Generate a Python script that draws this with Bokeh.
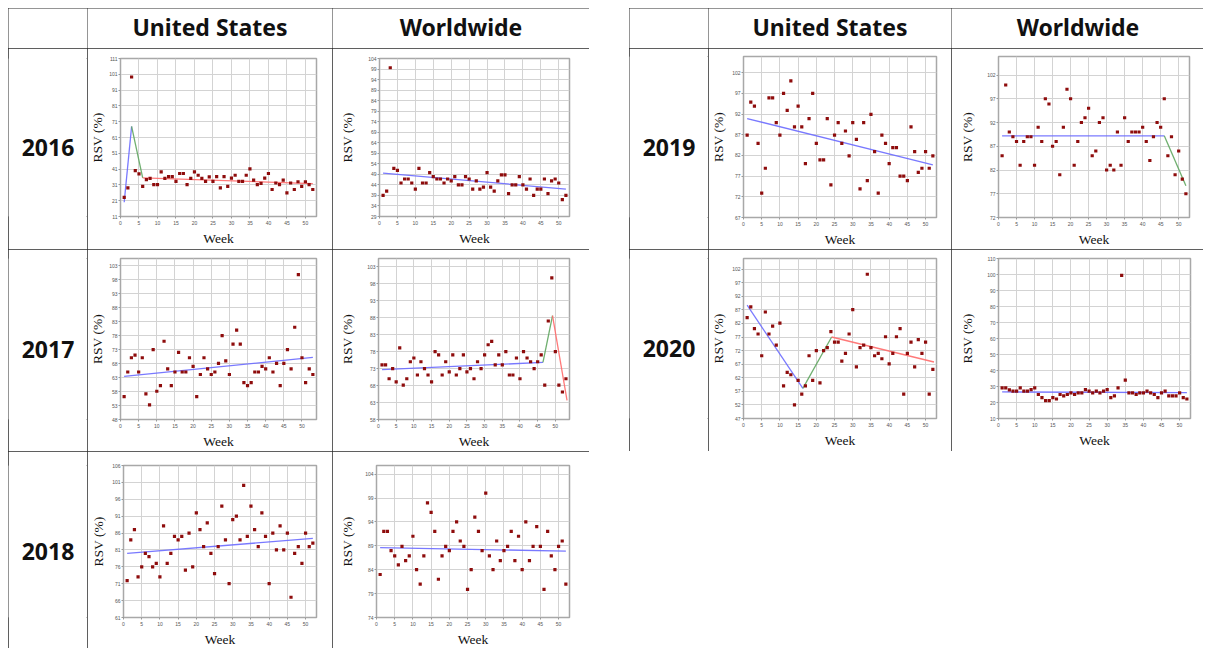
from bokeh.plotting import figure
from bokeh.layouts import row, column
from bokeh.models import Range1d, FixedTicker, Spacer
from bokeh.core.properties import value
from bokeh.embed import file_html
from bokeh.resources import INLINE

# ---------------- data ----------------
col_titles = ["United States", "Worldwide"]
years_left = ["2016", "2017", "2018"]
years_right = ["2019", "2020"]
x_label = "Week"
y_label = "RSV (%)"
x_ticks = [0, 5, 10, 15, 20, 25, 30, 35, 40, 45, 50]

us2016 = [23.1, 29.1, 99.3, 40, 38, 30.1, 34.3, 35.1, 31.2, 31.2,
          39.2, 35.1, 36.3, 36.3, 33.2, 38.2, 38.2, 31.2, 35.1, 39.2,
          37.1, 35.1, 33.2, 36.1, 33.2, 36.3, 29.1, 36.3, 30.1, 35.3,
          37.1, 33.2, 33.2, 37.1, 41.2, 34.0, 31.2, 32.0, 35.3, 38.2,
          28.1, 32.2, 31.2, 34.0, 26.0, 32.2, 28.1, 33.0, 30.1, 33.0,
          31.2, 28.1]
us2016_trend_x = [1, 3, 6, 52]
us2016_trend_y = [20, 68, 35.5, 31.8]
us2016_yticks = [11, 21, 31, 41, 51, 61, 71, 81, 91, 101, 111]

ww2016 = [39, 41, 99.6, 51.8, 50.9, 44.9, 46.8, 46.8, 44.9, 42,
          51.8, 44.9, 44.9, 49.8, 47.9, 46.8, 46.8, 44.9, 46.8, 45.9,
          47.9, 44, 44, 47.9, 46.8, 42, 45.9, 42, 42.9, 49.8,
          42.9, 41, 45.9, 48.8, 48.8, 39.9, 44, 44, 47.9, 44,
          42, 46.8, 39, 42, 42, 46.8, 39.9, 45.9, 46.8, 44.9,
          37, 39]
ww2016_trend_x = [1, 52]
ww2016_trend_y = [49.6, 42]
ww2016_yticks = [29, 34, 39, 44, 49, 54, 59, 64, 69, 74, 79, 84, 89, 94, 99, 104]

us2017 = [56.2, 65, 70.1, 71, 65, 70.1, 57.2, 53.2, 73, 58.1,
          60.1, 76, 66.1, 60.1, 65, 72, 65, 65, 70.1, 67,
          56.2, 64.1, 70.1, 66.1, 64.1, 65, 68.1, 78, 69, 64.1,
          75, 80, 75, 61.2, 60.1, 61.2, 65, 65, 67, 66.1,
          70.1, 65, 68.1, 60.1, 68.1, 73, 66.1, 81, 99.8, 70.1,
          61.2, 66.1, 64.1]
us2017_trend_x = [1, 53]
us2017_trend_y = [63.4, 70.2]
us2017_yticks = [48, 53, 58, 63, 68, 73, 78, 83, 88, 93, 98, 103]

ww2017 = [74.1, 74.1, 70, 73, 69.1, 79.1, 68.1, 70, 75, 76.1,
          71.1, 75, 73, 71.1, 69.1, 78, 77, 71.1, 75, 72,
          77, 71.1, 73, 77, 72, 73, 70, 75, 73, 77,
          80, 81, 74.1, 77, 74.1, 78, 71.1, 71.1, 76.1, 70,
          78, 76.1, 75, 73, 75, 77, 68.1, 87, 99.7, 78,
          68.1, 66.1, 70]
ww2017_trend_x = [1, 46.5, 49.2, 53.3]
ww2017_trend_y = [72.7, 74.8, 88.6, 63.6]
ww2017_yticks = [58, 63, 68, 73, 78, 83, 88, 93, 98, 103]

us2018 = [71.9, 84, 87, 73, 76, 80, 79, 76, 77, 73,
          88.1, 77, 80, 85, 84, 85, 75, 86, 76, 92,
          87, 82, 89, 80, 74, 82, 94, 84, 71, 90,
          91, 84, 100.1, 85, 94, 87, 82, 92, 85, 71,
          86, 81, 88.1, 81, 86, 67, 80, 82, 77, 86,
          82, 83]
us2018_trend_x = [1, 52]
us2018_trend_y = [80, 84.4]
us2018_yticks = [61, 66, 71, 76, 81, 86, 91, 96, 101, 106]

ww2018 = [83, 92, 92, 88, 86.9, 85, 88.9, 85.9, 86.9, 91,
          84, 81, 86.9, 98, 96, 92, 82, 86.9, 88.9, 88,
          92, 94, 90, 88.9, 79.9, 84, 95, 92, 88, 100,
          86.9, 84, 90, 85.9, 88, 88.9, 92, 85.9, 91, 84,
          94, 85.9, 88.9, 93, 88.9, 79.9, 92, 86.9, 84, 88.9,
          90, 81]
ww2018_trend_x = [1, 52]
ww2018_trend_y = [88.6, 87.9]
ww2018_yticks = [74, 79, 84, 89, 94, 99, 104]

us2019 = [86.9, 94.9, 93.9, 84.9, 72.9, 78.9, 95.9, 95.9, 89.9, 86.9,
          97, 92.9, 100, 88.9, 93.9, 88.9, 80, 90.9, 97, 84.9,
          80.9, 80.9, 90.9, 74.9, 86.9, 89.9, 84.9, 87.9, 81.9, 89.9,
          85.9, 73.9, 89.9, 75.9, 91.9, 82.9, 72.9, 86.9, 84.9, 80,
          83.9, 83.9, 77, 77, 75.9, 88.9, 82.9, 77.9, 78.9, 82.9,
          78.9, 81.9]
us2019_trend_x = [1, 52]
us2019_trend_y = [90.9, 79.7]
us2019_yticks = [67, 72, 77, 82, 87, 92, 97, 102]

ww2019 = [85, 99.9, 90, 89, 88, 83, 88, 89, 89, 83,
          91, 88, 97, 95.9, 87, 88, 81, 91, 99, 97,
          83, 88, 92, 93, 95, 85, 86, 92, 93, 82,
          83, 82, 90, 83, 93, 88, 90, 90, 90, 91,
          88, 84, 89, 92, 91, 97, 85, 89, 81, 86,
          80.1, 77]
ww2019_trend_x = [1, 46, 52]
ww2019_trend_y = [89.2, 89.2, 78.7]
ww2019_yticks = [72, 77, 82, 87, 92, 97, 102]

us2020 = [84.1, 88.1, 80.1, 78.1, 70.1, 86.2, 78.1, 81, 74, 82.1,
          59, 64, 63.1, 52, 61, 56, 59, 70.1, 61, 72,
          60.1, 72, 73.1, 79, 75.1, 75.1, 68.1, 71, 78.1, 87.1,
          66, 73.1, 74, 100.1, 73.1, 70.1, 71, 69, 77.1, 67.1,
          71, 77.1, 80.1, 56, 71, 75.1, 66, 76, 71, 75.1,
          56, 65.1]
us2020_trend_x = [1, 16.3, 24.2, 52.3]
us2020_trend_y = [88.7, 58.1, 77, 67.8]
us2020_yticks = [47, 52, 57, 62, 67, 72, 77, 82, 87, 92, 97, 102]

ww2020 = [29.2, 29.2, 27.9, 27.1, 27.1, 29.2, 27.1, 27.1, 28.1, 29.2,
          25, 23, 21.2, 21.2, 23, 22.2, 25, 24.1, 25, 26,
          25, 26, 26, 28.1, 27.1, 26, 27.1, 26, 27.1, 28.1,
          23, 24.1, 29.2, 99.5, 34, 26, 26, 25, 26, 26,
          27.1, 26, 25, 23, 26, 27.1, 24.1, 24.1, 24.1, 26,
          23, 22.2]
ww2020_trend_x = [1, 52]
ww2020_trend_y = [26.6, 26.2]
ww2020_yticks = [10, 20, 30, 40, 50, 60, 70, 80, 90, 100, 110]

# ---------------- styling ----------------
CELL = {"outline": "1px solid #2a2a2a", "outline-offset": "-1px"}
CELL_R = dict(CELL, **{"clip-path": "inset(0px 1px 0px 0px)"})   # open right edge
CELL_B = dict(CELL, **{"clip-path": "inset(0px 0px 1px 0px)"})   # open bottom edge
SEG_COLORS = ["#6a6aff", "#5fa65f", "#ff6a6a"]
HEAD_FONT = "Noto Sans"
SERIF = "Liberation Serif"


def text_cell(w, h, txt, size, ty=0.5, style=CELL):
    p = figure(width=w, height=h, x_range=Range1d(0, 1), y_range=Range1d(0, 1),
               output_backend="svg", toolbar_location=None, title=None,
               x_axis_location=None, y_axis_location=None,
               min_border_left=0, min_border_right=0, min_border_top=0, min_border_bottom=0,
               styles=style)
    p.grid.visible = False
    p.outline_line_color = None
    p.background_fill_color = "white"
    p.border_fill_color = "white"
    if txt:
        p.text(x=[0.5], y=[ty], text=[txt], text_align="center",
               text_baseline="middle", text_font=value(HEAD_FONT),
               text_font_style="bold", text_font_size=size, text_color="#111111")
    return p


def chart(w, h, vals, tx, ty, yticks, yr, xhi, mb, ystand, style=CELL):
    L, R, T, B = mb
    p = figure(width=w, height=h, x_range=Range1d(0, xhi), y_range=Range1d(*yr),
               output_backend="svg", toolbar_location=None,
               min_border_left=L, min_border_right=R,
               min_border_top=T, min_border_bottom=B, styles=style)
    p.background_fill_color = "white"
    p.border_fill_color = "white"
    p.outline_line_color = "#a8a8a8"
    p.outline_line_width = 1.5
    p.xaxis.ticker = FixedTicker(ticks=x_ticks)
    p.yaxis.ticker = FixedTicker(ticks=yticks)
    p.xgrid.ticker = FixedTicker(ticks=x_ticks)
    p.ygrid.ticker = FixedTicker(ticks=yticks)
    p.grid.grid_line_color = "#d3d3d3"
    p.grid.grid_line_width = 1
    for ax in p.axis:
        ax.axis_line_color = None
        ax.major_tick_line_color = "#999999"
        ax.major_tick_out = 2
        ax.major_tick_in = 0
        ax.minor_tick_line_color = None
        ax.major_label_text_font_size = "5px"
        ax.major_label_text_color = "#555555"
        ax.axis_label_text_font = SERIF
        ax.axis_label_text_font_style = "normal"
        ax.axis_label_text_font_size = "13.5px"
        ax.axis_label_text_color = "#111111"
    p.xaxis.axis_label = x_label
    p.yaxis.axis_label = y_label
    p.xaxis.major_label_standoff = 2
    p.xaxis.axis_label_standoff = 3
    p.yaxis.major_label_standoff = 1
    p.yaxis.axis_label_standoff = ystand
    n = len(tx) - 1
    p.segment(x0=tx[:-1], y0=ty[:-1], x1=tx[1:], y1=ty[1:],
              line_color=SEG_COLORS[:n], line_width=1.3, line_alpha=0.9)
    weeks = list(range(1, len(vals) + 1))
    p.scatter(weeks, vals, marker="square", size=3.2,
              fill_color="#8e0c0c", line_color=None)
    return p


YT = 0.435
# left table: widths 79 / 245 / 257 ; heights 40 / 201 / 202 / 198
lw = [79, 245, 257]
left_rows = [
    row(text_cell(lw[0], 40, "", "1px"),
        text_cell(lw[1], 40, col_titles[0], "23px", 0.55),
        text_cell(lw[2], 40, col_titles[1], "23px", 0.55)),
    row(text_cell(lw[0], 201, years_left[0], "23px", YT),
        chart(lw[1], 201, us2016, us2016_trend_x, us2016_trend_y, us2016_yticks, (11, 111), 53, (33, 16, 7, 33), 1),
        chart(lw[2], 201, ww2016, ww2016_trend_x, ww2016_trend_y, ww2016_yticks, (29, 104), 53, (47, 20, 10, 31), 10)),
    row(text_cell(lw[0], 202, years_left[1], "23px", YT),
        chart(lw[1], 202, us2017, us2017_trend_x, us2017_trend_y, us2017_yticks, (48, 105.6), 54, (33, 16, 9, 27), 1),
        chart(lw[2], 202, ww2017, ww2017_trend_x, ww2017_trend_y, ww2017_yticks, (58, 105.4), 54, (46, 20, 9, 28), 9)),
    row(text_cell(lw[0], 198, years_left[2], "23px", YT, CELL_B),
        chart(lw[1], 198, us2018, us2018_trend_x, us2018_trend_y, us2018_yticks, (61, 106), 53, (36, 16, 14, 26), 3, CELL_B),
        chart(lw[2], 198, ww2018, ww2018_trend_x, ww2018_trend_y, ww2018_yticks, (74, 105.8), 53, (44, 20, 11, 24), 7, CELL_B)),
]
left_table = column(*left_rows)

rw = [79, 243, 253]
right_rows = [
    row(text_cell(rw[0], 40, "", "1px"),
        text_cell(rw[1], 40, col_titles[0], "23px", 0.55),
        text_cell(rw[2], 40, col_titles[1], "23px", 0.55, CELL_R)),
    row(text_cell(rw[0], 201, years_right[0], "23px", YT),
        chart(rw[1], 201, us2019, us2019_trend_x, us2019_trend_y, us2019_yticks, (67, 105.9), 53, (35, 15, 8, 28), 3),
        chart(rw[2], 201, ww2019, ww2019_trend_x, ww2019_trend_y, ww2019_yticks, (72, 105.9), 53, (47, 15, 8, 28), 9, CELL_R)),
    row(text_cell(rw[0], 202, years_right[1], "23px", YT),
        chart(rw[1], 202, us2020, us2020_trend_x, us2020_trend_y, us2020_yticks, (47, 105.9), 53, (35, 15, 9, 29), 3),
        chart(rw[2], 202, ww2020, ww2020_trend_x, ww2020_trend_y, ww2020_yticks, (10, 110), 53, (47, 14, 9, 33), 9, CELL_R)),
]
right_table = column(*right_rows)

body = row(Spacer(width=8, height=8), left_table, Spacer(width=40, height=8), right_table)
layout = column(Spacer(width=8, height=8), body)

open("out.html", "w").write(file_html(layout, INLINE))
